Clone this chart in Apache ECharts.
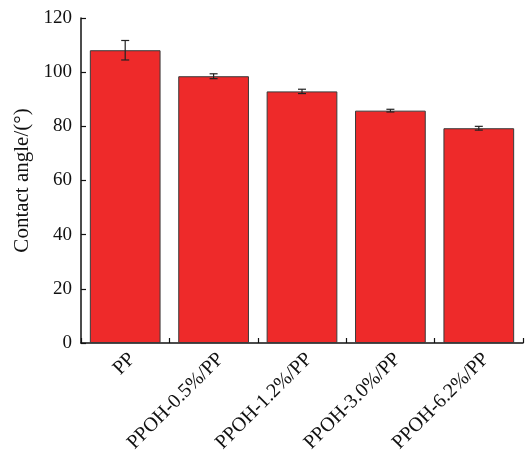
<!DOCTYPE html>
<html>
<head>
<meta charset="utf-8">
<script src="https://cdn.jsdelivr.net/npm/echarts@6/dist/echarts.min.js"></script>
<style>
  html, body { margin: 0; padding: 0; background: #fff; }
  #chart { width: 526px; height: 459px; }
</style>
</head>
<body>
<div id="chart"></div>
<script>
// Contact angle of PP and PPOH-grafted PP samples
const categories = ['PP', 'PPOH-0.5%/PP', 'PPOH-1.2%/PP', 'PPOH-3.0%/PP', 'PPOH-6.2%/PP'];
const contactAngle = [108.1, 98.5, 92.9, 85.8, 79.3];
const angleError = [3.6, 0.9, 0.8, 0.5, 0.7];
const yTicks = [0, 20, 40, 60, 80, 100, 120];

const serif = '"Liberation Serif", "DejaVu Serif", serif';

const chart = echarts.init(document.getElementById('chart'));

const errorData = contactAngle.map((v, i) => [i, v - angleError[i], v + angleError[i]]);

chart.setOption({
  animation: false,
  grid: { left: 81, top: 18, right: 3, bottom: 116 },
  xAxis: {
    type: 'category',
    data: categories,
    boundaryGap: true,
    axisLine: { show: true, lineStyle: { color: '#111', width: 1.5 } },
    axisTick: { show: true, inside: true, length: 5, lineStyle: { color: '#111', width: 1.2 } },
    axisLabel: {
      rotate: 45,
      interval: 0,
      margin: 6,
      align: 'right',
      verticalAlign: 'top',
      color: '#111',
      fontFamily: serif,
      fontSize: 20
    }
  },
  yAxis: {
    type: 'value',
    min: yTicks[0],
    max: yTicks[yTicks.length - 1],
    interval: 20,
    name: 'Contact angle/(°)',
    nameLocation: 'middle',
    nameGap: 45,
    nameTextStyle: { color: '#111', fontFamily: serif, fontSize: 21 },
    axisLine: { show: true, lineStyle: { color: '#111', width: 1.5 } },
    axisTick: { show: true, inside: true, length: 5, lineStyle: { color: '#111', width: 1.2 } },
    axisLabel: { color: '#111', fontFamily: serif, fontSize: 19, margin: 9 },
    splitLine: { show: false }
  },
  series: [
    {
      type: 'bar',
      data: contactAngle,
      barWidth: '80%',
      itemStyle: { color: '#EE2A2A', borderColor: '#3a3a3a', borderWidth: 1 }
    },
    {
      type: 'custom',
      data: errorData,
      z: 10,
      renderItem: function (params, api) {
        const x = api.value(0);
        const lo = api.coord([x, api.value(1)]);
        const hi = api.coord([x, api.value(2)]);
        const cap = 4;
        const style = { stroke: '#222', lineWidth: 1.2 };
        return {
          type: 'group',
          children: [
            { type: 'line', shape: { x1: hi[0], y1: hi[1], x2: lo[0], y2: lo[1] }, style: style },
            { type: 'line', shape: { x1: hi[0] - cap, y1: hi[1], x2: hi[0] + cap, y2: hi[1] }, style: style },
            { type: 'line', shape: { x1: lo[0] - cap, y1: lo[1], x2: lo[0] + cap, y2: lo[1] }, style: style }
          ]
        };
      }
    }
  ]
});
</script>
</body>
</html>
